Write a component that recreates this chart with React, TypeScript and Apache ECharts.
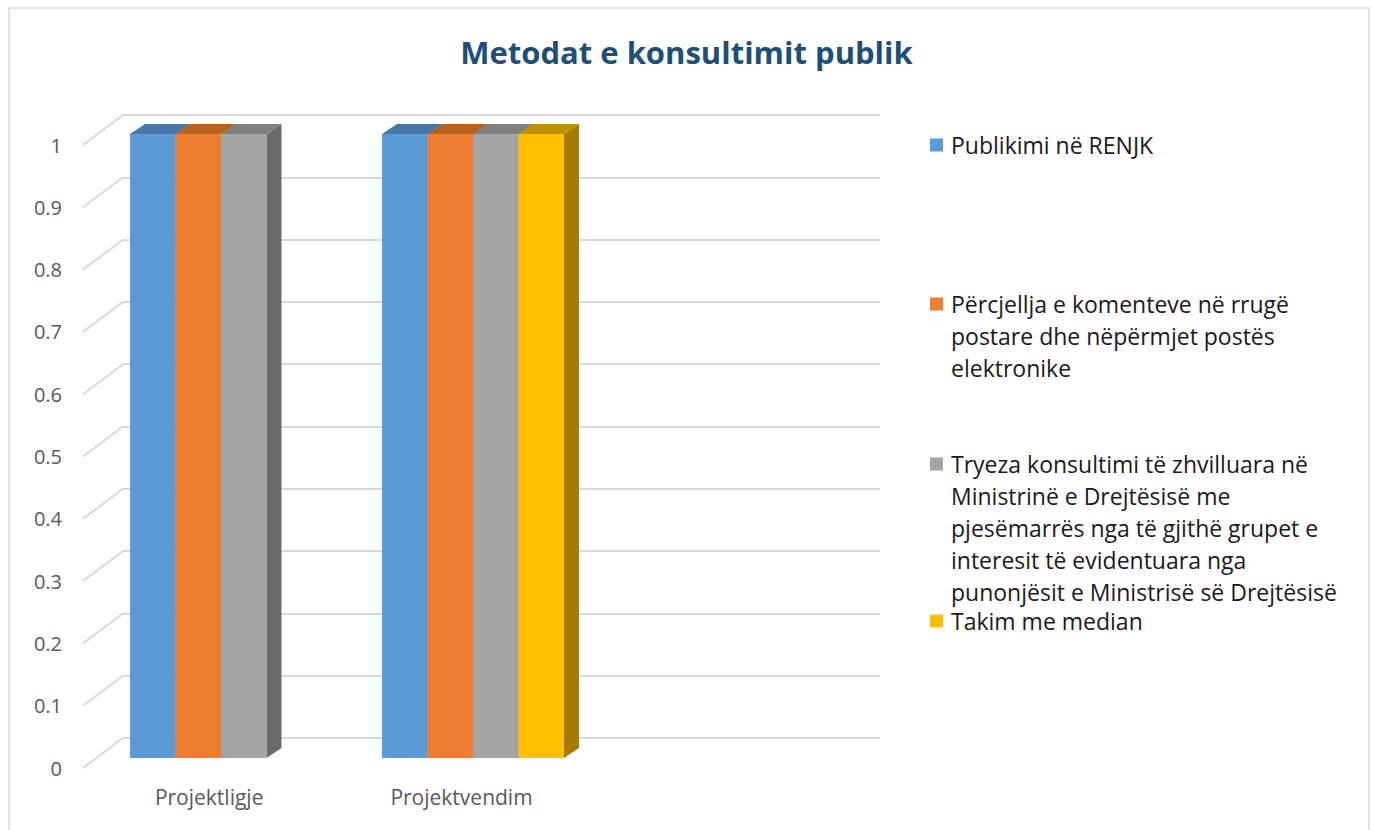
import React, { useEffect, useRef } from "react";
import * as echarts from "echarts";

// ---- data ----
const categories = ["Projektligje", "Projektvendim", ""];
const seriesNames = [
  "Publikimi në RENJK",
  "Përcjellja e komenteve në rrugë postare dhe nëpërmjet postës elektronike",
  "Tryeza konsultimi të zhvilluara në Ministrinë e Drejtësisë me pjesëmarrës nga të gjithë grupet e interesit të evidentuara nga punonjësit e Ministrisë së Drejtësisë",
  "Takim me median",
];
const legendLines = [
  ["Publikimi në RENJK"],
  ["Përcjellja e komenteve në rrugë", "postare dhe nëpërmjet postës", "elektronike"],
  [
    "Tryeza konsultimi të zhvilluara në",
    "Ministrinë e Drejtësisë me",
    "pjesëmarrës nga të gjithë grupet e",
    "interesit të evidentuara nga",
    "punonjësit e Ministrisë së Drejtësisë",
  ],
  ["Takim me median"],
];
const publikimi = [1, 1, null];
const percjellja = [1, 1, null];
const tryeza = [1, 1, null];
const takim = [0, 1, null];
const seriesValues = [publikimi, percjellja, tryeza, takim];
const yTicks = [0, 0.1, 0.2, 0.3, 0.4, 0.5, 0.6, 0.7, 0.8, 0.9, 1];

// ---- styles ----
const frontColors = ["#5b9bd5", "#ed7d31", "#a5a5a5", "#ffc000"];
const topColors = ["#4677a8", "#b6611f", "#7f7f7f", "#c09000"];
const sideColors = ["#3f6c98", "#9c521a", "#6b6b6b", "#a47b00"];
const FONT = "'Open Sans', 'Noto Sans', sans-serif";

// layout
const FRONT = { left: 83, top: 145, width: 757, height: 623 };
const BACK = { left: 123, top: 115, width: 757, height: 623 };
const BARS = { left: 95, top: 134, width: 756, height: 624 };
const BAR_DX = 15;
const BAR_DY = 10;
const CAT_GAP = 0.278;
const N = 4;
const LEGEND_LH = 32;
const legendIconCenters = [145, 304, 464, 621];

export default function App() {
  const ref = useRef<HTMLDivElement>(null);

  useEffect(() => {
    if (!ref.current) return;
    const chart = echarts.init(ref.current, undefined, { renderer: "svg" });

    const barSeries = seriesNames.map((name, si) => ({
      type: "custom",
      name,
      xAxisIndex: 0,
      yAxisIndex: 0,
      z: 3,
      itemStyle: { color: frontColors[si] },
      data: seriesValues[si].map((v, i) => [i, v == null ? "-" : v]),
      encode: { x: 0, y: 1 },
      renderItem: (params: any, api: any) => {
        const v = api.value(1);
        if (!v || isNaN(v)) return null;
        const cat = api.value(0);
        const band = api.size([1, 0])[0];
        const bw = (band * (1 - CAT_GAP)) / N;
        const c0 = api.coord([cat, 0]);
        const c1 = api.coord([cat, v]);
        const x = c0[0] - (N * bw) / 2 + si * bw;
        const y0 = c0[1];
        const y1 = c1[1];
        return {
          type: "group",
          children: [
            {
              type: "polygon",
              shape: {
                points: [
                  [x + bw, y1],
                  [x + bw + BAR_DX, y1 - BAR_DY],
                  [x + bw + BAR_DX, y0 - BAR_DY],
                  [x + bw, y0],
                ],
              },
              style: { fill: sideColors[si] },
            },
            {
              type: "polygon",
              shape: {
                points: [
                  [x, y1],
                  [x + bw, y1],
                  [x + bw + BAR_DX, y1 - BAR_DY],
                  [x + BAR_DX, y1 - BAR_DY],
                ],
              },
              style: { fill: topColors[si] },
            },
            {
              type: "rect",
              shape: { x, y: y1, width: bw, height: y0 - y1 },
              style: { fill: frontColors[si] },
            },
          ],
        };
      },
    }));

    const diagSeries = {
      type: "custom",
      name: "_grid",
      xAxisIndex: 1,
      yAxisIndex: 1,
      z: 1,
      silent: true,
      data: yTicks.map((t) => [0, t]),
      encode: { x: 0, y: 1 },
      renderItem: (params: any, api: any) => {
        const p = api.coord([0, api.value(1)]);
        const x0 = params.coordSys.x;
        return {
          type: "line",
          shape: {
            x1: x0,
            y1: p[1],
            x2: x0 + (BACK.left - FRONT.left),
            y2: p[1] - (FRONT.top - BACK.top),
          },
          style: { stroke: "#d9d9d9", lineWidth: 2 },
        };
      },
    };

    const legends = seriesNames.map((name, i) => {
      const n = legendLines[i].length;
      return {
        data: [name],
        orient: "vertical",
        left: 930,
        top: legendIconCenters[i] - ((2 * n - 1) * LEGEND_LH) / 2,
        padding: 0,
        itemWidth: 19,
        itemHeight: 13,
        icon: "path://M0,0H13V13H0Z",
        itemStyle: { color: frontColors[i] },
        selectedMode: false,
        formatter: () => "\n".repeat(n - 1) + legendLines[i].join("\n"),
        textStyle: {
          fontFamily: FONT,
          fontSize: 23,
          color: "#1a1a1a",
          lineHeight: LEGEND_LH,
        },
      };
    });

    const option: any = {
      animation: false,
      backgroundColor: "#ffffff",
      title: {
        text: "Metodat e konsultimit publik",
        left: "center",
        top: 31,
        textStyle: {
          fontFamily: FONT,
          fontSize: 31,
          fontWeight: "bold",
          color: "#1f4e79",
        },
      },
      legend: legends,
      grid: [{ ...BARS }, { ...FRONT }, { ...BACK }],
      xAxis: [
        { type: "category", data: categories, gridIndex: 0, show: false },
        {
          type: "category",
          data: categories,
          gridIndex: 1,
          axisLine: { show: false },
          axisTick: { show: false },
          axisLabel: {
            fontFamily: FONT,
            fontSize: 21,
            color: "#595959",
            margin: 18,
          },
        },
        { type: "category", data: categories, gridIndex: 2, show: false },
      ],
      yAxis: [
        { type: "value", gridIndex: 0, min: 0, max: 1, show: false },
        {
          type: "value",
          gridIndex: 1,
          min: 0,
          max: 1,
          interval: 0.1,
          axisLine: { show: false },
          axisTick: { show: false },
          splitLine: { show: false },
          axisLabel: {
            fontFamily: FONT,
            fontSize: 20,
            color: "#595959",
            margin: 21,
            formatter: (v: number) => String(Math.round(v * 10) / 10),
          },
        },
        {
          type: "value",
          gridIndex: 2,
          min: 0,
          max: 1,
          interval: 0.1,
          axisLine: { show: false },
          axisTick: { show: false },
          axisLabel: { show: false },
          splitLine: { show: true, lineStyle: { color: "#d9d9d9", width: 2 } },
        },
      ],
      graphic: [
        {
          type: "rect",
          silent: true,
          z: -10,
          shape: { x: 9, y: 8, width: 1360, height: 900 },
          style: { fill: "none", stroke: "#d9d9d9", lineWidth: 1.5 },
        },
      ],
      series: [diagSeries, ...barSeries],
    };

    chart.setOption(option);
    return () => chart.dispose();
  }, []);

  return (
    <div
      ref={ref}
      style={{
        position: "fixed",
        left: 0,
        top: 0,
        width: 1373,
        height: 830,
        background: "#ffffff",
      }}
    />
  );
}
